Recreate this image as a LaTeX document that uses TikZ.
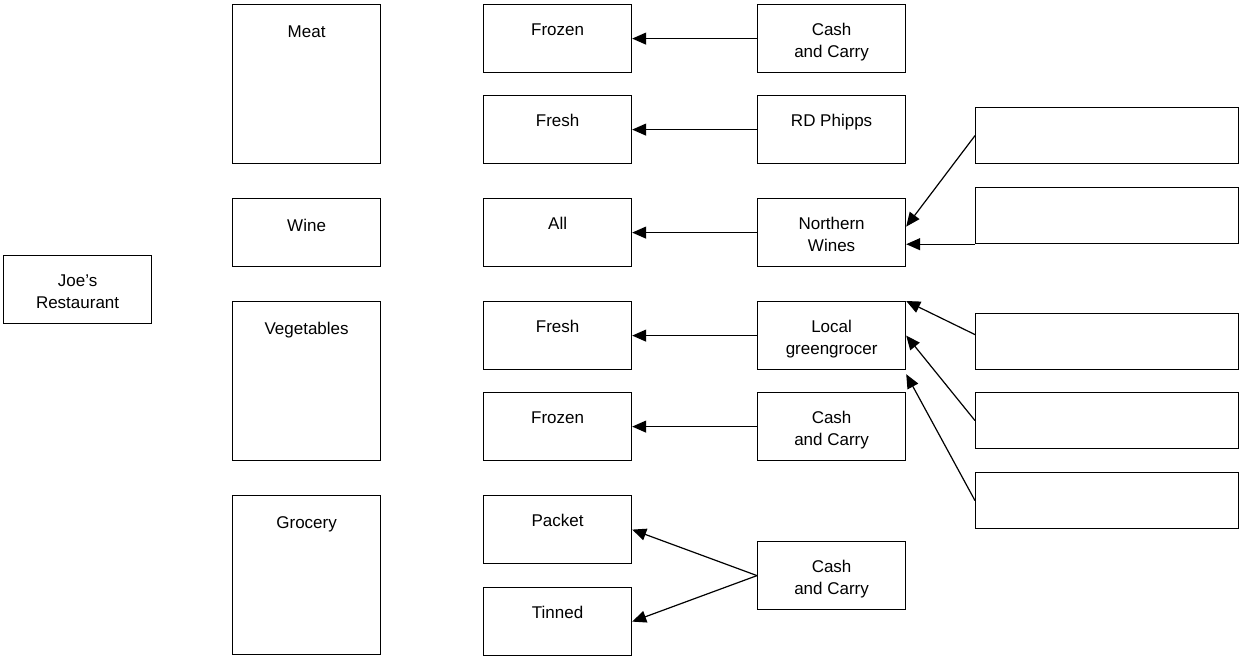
\documentclass[tikz,border=0pt]{standalone}
\usepackage{fontspec}
\setmainfont{Liberation Sans}
\usetikzlibrary{arrows.meta}
\tikzset{
  box/.style={draw, line width=1.2pt, rectangle, inner sep=0pt, anchor=north west},
  wide/.style={box, minimum width=148pt, minimum height=68pt},
  tall/.style={box, minimum width=148pt, minimum height=159pt},
  blank/.style={box, minimum width=263pt, minimum height=56pt},
  % one-line caption: baseline a fixed distance below the box top
  txt/.style={anchor=base, yshift=-31pt, align=center, inner sep=0pt,
    font=\fontsize{17pt}{22.5pt}\selectfont},
  txtlow/.style={txt, yshift=-2pt},
  % two-line caption: the base anchor sits on the second line
  txttwo/.style={txt, yshift=-22.5pt},
  arr/.style={line width=1.2pt, -{Triangle[length=14pt,width=12pt]}}
}
\begin{document}
\begin{tikzpicture}[x=1pt,y=-1pt]
\useasboundingbox (0,0) rectangle (1239,656);

% the restaurant
\node[wide, label={[txttwo]north:{Joe's\\Restaurant}}] (joe) at (3,255) {};

% product categories
\node[tall, label={[txtlow]north:Meat}] (meat) at (232,4) {};
\node[wide, label={[txtlow]north:Wine}] (wine) at (232,198) {};
\node[tall, label={[txtlow]north:Vegetables}] (veg) at (232,301) {};
\node[tall, label={[txtlow]north:Grocery}] (groc) at (232,495) {};

% product kinds
\node[wide, label={[txt]north:Frozen}] (mfrozen) at (483,4) {};
\node[wide, label={[txt]north:Fresh}] (mfresh) at (483,95) {};
\node[wide, label={[txt]north:All}] (wall) at (483,198) {};
\node[wide, label={[txt]north:Fresh}] (vfresh) at (483,301) {};
\node[wide, label={[txt]north:Frozen}] (vfrozen) at (483,392) {};
\node[wide, label={[txt]north:Packet}] (packet) at (483,495) {};
\node[wide, label={[txt]north:Tinned}] (tinned) at (483,587) {};

% suppliers
\node[wide, label={[txttwo]north:{Cash\\and Carry}}] (cc1) at (757,4) {};
\node[wide, label={[txt]north:RD Phipps}] (rdp) at (757,95) {};
\node[wide, label={[txttwo]north:{Northern\\Wines}}] (nw) at (757,198) {};
\node[wide, label={[txttwo]north:{Local\\greengrocer}}] (lg) at (757,301) {};
\node[wide, label={[txttwo]north:{Cash\\and Carry}}] (cc2) at (757,392) {};
\node[wide, label={[txttwo]north:{Cash\\and Carry}}] (cc3) at (757,541) {};

% empty boxes
\node[blank] (ba) at (975,107) {};
\node[blank] (bb) at (975,187) {};
\node[blank] (bc) at (975,313) {};
\node[blank] (bd) at (975,392) {};
\node[blank] (be) at (975,472) {};

% supply connectors
\draw[arr] (cc1.west) -- (mfrozen.east);
\draw[arr] (rdp.west) -- (mfresh.east);
\draw[arr] (nw.west) -- (wall.east);
\draw[arr] (lg.west) -- (vfresh.east);
\draw[arr] (cc2.west) -- (vfrozen.east);
\draw[arr] (cc3.west) -- (packet.east);
\draw[arr] (cc3.west) -- (tinned.east);

\draw[arr] (ba.west) -- ([yshift=6pt]nw.east);
\draw[arr] (bb.south west) -- (bb.south west -| nw.east);
\draw[arr] ([yshift=7pt]bc.west) -- (lg.north east);
\draw[arr] (bd.west) -- (lg.east);
\draw[arr] (be.west) -- ([yshift=-4pt]lg.south east);
\end{tikzpicture}
\end{document}
